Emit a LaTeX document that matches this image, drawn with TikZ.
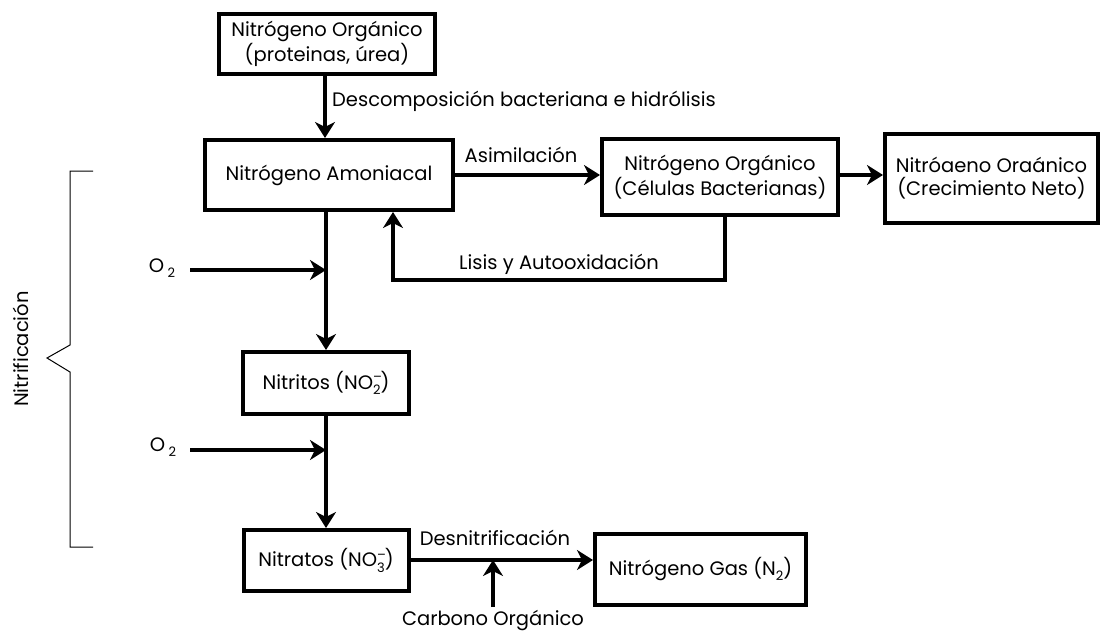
\documentclass[tikz,border=0pt]{standalone}
\usepackage{fontspec}
\setmainfont{Poppins}
\usetikzlibrary{arrows.meta}
\newcommand{\chemsub}[1]{\raisebox{-0.4ex}{\fontsize{13}{13}\selectfont #1}}
\newcommand{\chemss}[2]{\rlap{\raisebox{0.7ex}{\fontsize{13}{13}\selectfont #1}}\raisebox{-0.5ex}{\fontsize{13}{13}\selectfont #2}}
\begin{document}
\begin{tikzpicture}[x=1pt,y=-1pt,
  font=\fontsize{19.5}{23}\selectfont,
  box/.style={draw,line width=4pt,rectangle,align=center,inner sep=0pt},
  flow/.style={line width=4pt,-{Stealth[length=16pt,width=20pt,inset=5pt]}},
  lbl/.style={inner sep=0pt,anchor=base}]
\useasboundingbox (0,0) rectangle (1102,637);
% boxes
\node[box,minimum width=216,minimum height=60] (top) at (327,44) {Nitrógeno Orgánico\\(proteinas, úrea)};
\node[box,minimum width=248,minimum height=70] (amon) at (329,175) {Nitrógeno Amoniacal};
\node[box,minimum width=236,minimum height=76] (cel) at (720,177) {Nitrógeno Orgánico\\(Células Bacterianas)};
\node[box,minimum width=213,minimum height=89] (neto) at (991.5,178.5) {Nitróaeno Oraánico\\(Crecimiento Neto)};
\node[box,minimum width=166,minimum height=62] (nitri) at (326,383) {Nitritos (NO\chemss{–}{2})};
\node[box,minimum width=165,minimum height=61] (nitra) at (326,560.5) {Nitratos (NO\chemss{–}{3})};
\node[box,minimum width=211,minimum height=71] (gas) at (700.5,569.5) {Nitrógeno Gas (N\chemsub{2})};
% connectors
\draw[flow] (top.south -| 325,0) -- (amon.north -| 325,0);
\draw[flow] (amon.east |- 0,175) -- (cel.west |- 0,175);
\draw[flow] (cel.east |- 0,175) -- (neto.west |- 0,175);
\coordinate (lisA) at (cel.south -| 725,0);
\coordinate (lisB) at (725,280);
\coordinate (lisC) at (393,280);
\draw[flow] (lisA) -- (lisB) -- (lisC) -- (amon.south -| lisC);
\draw[flow] (amon.south -| nitri.north) -- (nitri.north);
\draw[flow] (nitri.south) -- (nitra.north);
\draw[flow] (nitra.east |- 0,560) -- (gas.west |- 0,560);
% O2 inputs
\node[inner sep=0pt] (o1) at (162,268) {O\,\chemsub{2}};
\node[inner sep=0pt] (o2) at (163,447) {O\,\chemsub{2}};
\coordinate (o1t) at (326,270);
\coordinate (o2t) at (326,450);
\draw[flow] (190,270) -- (o1t);
\draw[flow] (190,450) -- (o2t);
% carbon
\node[inner sep=0pt] (carb) at (493,620) {Carbono Orgánico};
\coordinate (cTop) at (493,560);
\draw[flow] (493,607) -- (cTop);
% labels
\node[lbl,anchor=base west] (l1) at (332,106) {Descomposición bacteriana e hidrólisis};
\node[lbl] (l2) at (521,162) {Asimilación};
\node[lbl] (l3) at (559,269) {Lisis y Autooxidación};
\node[lbl] (l4) at (495,545) {Desnitrificación};
% brace
\draw[line width=1pt] (93,171) -- (70,171) -- (70,345) -- (47,358) -- (70,372) -- (70,547) -- (93,547);
\node[rotate=90,inner sep=0pt] (nit) at (21,349) {Nitrificación};
\end{tikzpicture}
\end{document}
